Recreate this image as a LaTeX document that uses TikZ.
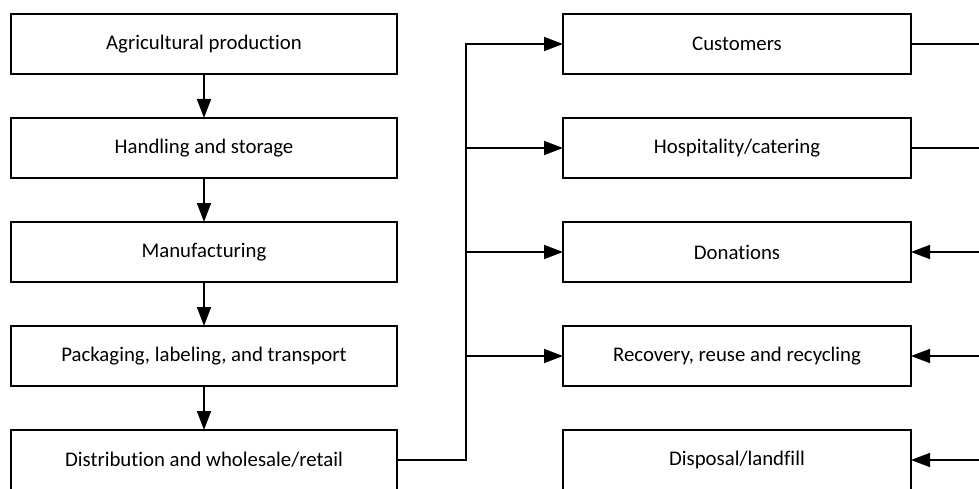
\documentclass[tikz,border=0pt]{standalone}
\usepackage{fontspec}
\setmainfont{Carlito}[RawFeature=-liga]
\usetikzlibrary{arrows.meta,positioning}

\begin{document}
\begin{tikzpicture}[font=\fontsize{20.8}{24}\selectfont, node distance=44pt,
  box/.style={draw=black, line width=2.6pt, outer sep=0pt, minimum width=#1,
  minimum height=60pt, inner sep=3pt, align=center}, box/.default=386pt,
  line/.style={line width=1.5pt, black},
  arr/.style={line, -{Triangle[length=19pt,width=14pt]}}]
\useasboundingbox (0,0) rectangle (979pt,-489pt);
\node[box] (agri) at (204pt,-44pt) {Agricultural production};
\node[box, below=of agri] (hand) {Handling and storage};
\node[box, below=of hand] (manu) {Manufacturing};
\node[box, below=of manu] (pack) {Packaging, labeling, and transport};
\node[box, below=of pack] (dist) {Distribution and wholesale/retail};
\node[box=348pt] (cust) at (737pt,-44pt) {Customers};
\node[box=348pt, below=of cust] (hosp) {Hospitality/catering};
\node[box=348pt, below=of hosp] (don) {Donations};
\node[box=348pt, below=of don] (rec) {Recovery, reuse and recycling};
\node[box=348pt, below=of rec] (disp) {Disposal/landfill};
\coordinate (bus) at (466pt,0);
\coordinate (edge) at (979pt,0);
\draw[arr] (agri) -- (hand); \draw[arr] (hand) -- (manu);
\draw[arr] (manu) -- (pack); \draw[arr] (pack) -- (dist);
\draw[arr] (dist.east) -| (bus |- cust.west) -- (cust.west);
\foreach \n in {hosp,don,rec} \draw[arr] (bus |- \n.west) -- (\n.west);
\draw[line] (cust.east) -- (cust.east -| edge);
\draw[line] (hosp.east) -- (hosp.east -| edge);
\foreach \n in {don,rec,disp} \draw[arr] (\n.east -| edge) -- (\n.east);
\end{tikzpicture}
\end{document}
